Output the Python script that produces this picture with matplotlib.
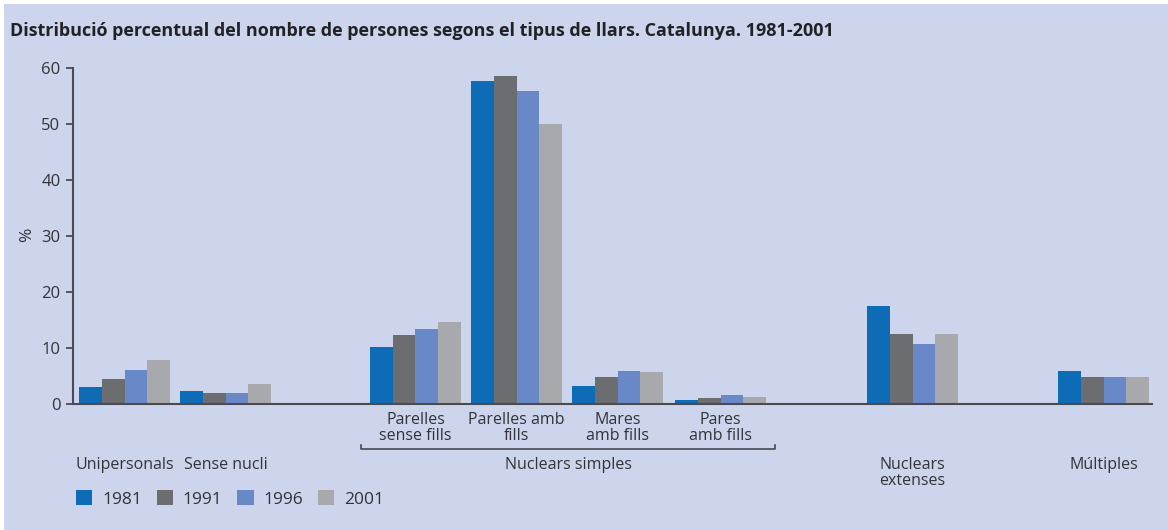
import matplotlib
matplotlib.use("Agg")
import matplotlib.pyplot as plt
from matplotlib.patches import Rectangle
import numpy as np

plt.rcParams['font.family'] = ['Open Sans', 'DejaVu Sans']

# ---- data ----
categories = ["Unipersonals", "Sense nucli", "Parelles\nsense fills", "Parelles amb\nfills",
              "Mares\namb fills", "Pares\namb fills", "Nuclears\nextenses", "Múltiples"]
years = ["1981", "1991", "1996", "2001"]
v1981 = [3.0, 2.3, 10.2, 57.7, 3.2, 0.7, 17.5, 5.9]
v1991 = [4.5, 1.9, 12.3, 58.6, 4.8, 1.1, 12.5, 4.8]
v1996 = [6.1, 1.9, 13.4, 55.9, 5.9, 1.6, 10.7, 4.8]
v2001 = [7.9, 3.6, 14.6, 50.0, 5.7, 1.3, 12.5, 4.8]
yticks = [0, 10, 20, 30, 40, 50, 60]
title = "Distribució percentual del nombre de persones segons el tipus de llars. Catalunya. 1981-2001"
bracket_label = "Nuclears simples"

# ---- layout ----
group_pos = np.array([0, 1, 2.88, 3.88, 4.88, 5.90, 7.80, 9.69])
bar_w = 0.225
colors = ["#0E6BB5", "#6C6D71", "#6888C8", "#A8A9AD"]
bg = "#CDD5EC"
txt = "#333338"

fig = plt.figure(figsize=(11.68, 5.30), dpi=100)
fig.patch.set_facecolor("white")
fig.add_artist(Rectangle((4/1168, 0), 1, (530-4)/530, transform=fig.transFigure,
                         facecolor=bg, edgecolor="none", zorder=-10))

ax = fig.add_axes([73/1168, (530-404)/530, 1079/1168, 336/530])
ax.set_facecolor("none")

series = [v1981, v1991, v1996, v2001]
for i, (vals, c) in enumerate(zip(series, colors)):
    ax.bar(group_pos + (i - 1.5) * bar_w, vals, width=bar_w, color=c,
           edgecolor="none", label=years[i], zorder=2)

ax.set_xlim(-0.51, 10.17)
ax.set_ylim(0, 60)
ax.set_yticks(yticks)
ax.set_yticklabels([str(t) for t in yticks], fontsize=12, color=txt)
ax.tick_params(axis='y', length=5, width=1.3, color="#4a4a50", pad=4)
ax.set_xticks([])
for s in ["top", "right"]:
    ax.spines[s].set_visible(False)
for s in ["left", "bottom"]:
    ax.spines[s].set_color("#4a4a50")
    ax.spines[s].set_linewidth(1.5)

ax.set_ylabel("%", fontsize=12.5, color=txt)
ax.yaxis.set_label_coords(-0.035, 0.503)

# category labels
tr = ax.get_xaxis_transform()
def ypix(p):
    return (530 - p) / 530

for j, name in enumerate(categories):
    if j in (2, 3, 4, 5):
        ax.text(group_pos[j], -0.025, name, transform=tr, ha="center", va="top",
                fontsize=11.5, color=txt, linespacing=1.0)
    else:
        ax.text(group_pos[j], -0.158, name, transform=tr, ha="center", va="top",
                fontsize=11.5, color=txt, linespacing=1.0)

# bracket for nuclears simples
x0 = group_pos[2] - 0.54
x1 = group_pos[5] + 0.54
yb = -0.133
ax.plot([x0, x0, x1, x1], [yb + 0.012, yb, yb, yb + 0.012], transform=tr,
        color="#4a4a50", lw=1.2, clip_on=False)
ax.text((x0 + x1) / 2, -0.158, bracket_label, transform=tr, ha="center", va="top",
        fontsize=11.5, color=txt)

# legend
handles, labels = ax.get_legend_handles_labels()
leg = fig.legend(handles, labels, loc="center left", bbox_to_anchor=(76/1168, ypix(499)),
                 ncol=4, frameon=False, fontsize=12.5, handlelength=0.95, handleheight=0.95,
                 handletextpad=0.55, columnspacing=0.85, borderaxespad=0, borderpad=0)
for t in leg.get_texts():
    t.set_color(txt)

fig.text(10/1168, ypix(31), title, fontsize=13, fontweight="bold", color="#222226",
         ha="left", va="center")

fig.savefig("out.png", dpi=100, facecolor=fig.get_facecolor())
